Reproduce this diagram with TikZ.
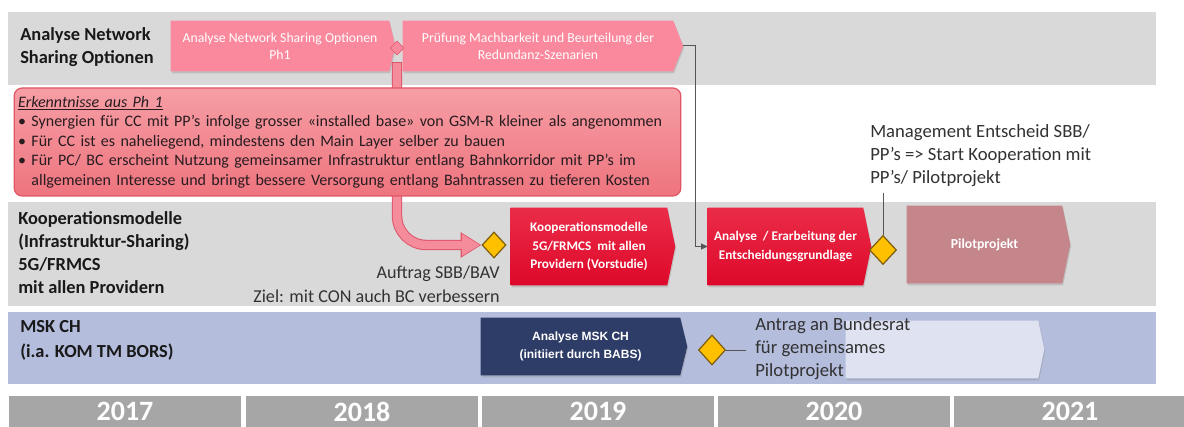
\documentclass[tikz,border=0pt]{standalone}
\usepackage{fontspec}
\setmainfont{Carlito}
\newfontfamily\arialfont{Liberation Sans}
\usetikzlibrary{shapes.geometric,arrows.meta,shadows,calc}
\pgfdeclarelayer{background}
\pgfsetlayers{background,main}

\definecolor{bandgray}{RGB}{217,217,217}
\definecolor{bandblue}{RGB}{180,189,220}
\definecolor{yeargray}{RGB}{166,166,166}
\definecolor{pinkbox}{RGB}{251,137,157}
\definecolor{pinkedge}{RGB}{226,96,116}
\definecolor{fatpink}{RGB}{245,140,155}
\definecolor{fatedge}{RGB}{222,84,104}
\definecolor{erktop}{RGB}{246,158,165}
\definecolor{erkbot}{RGB}{238,116,126}
\definecolor{erkedge}{RGB}{224,86,100}
\definecolor{erktext}{RGB}{40,28,32}
\definecolor{redtop}{RGB}{234,44,72}
\definecolor{redbot}{RGB}{222,8,42}
\definecolor{pilotrose}{RGB}{196,134,138}
\definecolor{navy}{RGB}{46,60,104}
\definecolor{paleblue}{RGB}{223,227,241}
\definecolor{msyellow}{RGB}{255,192,0}
\definecolor{msedge}{RGB}{125,92,10}
\definecolor{labelcol}{RGB}{25,25,25}
\definecolor{notecol}{RGB}{50,50,50}
\definecolor{conncol}{RGB}{85,85,85}

% fill of a chevron-shaped box behind a named node; #2 = length of the point
\newcommand\chevfill[3]{%
  \begin{pgfonlayer}{background}
    \path[#3] (#1.north west) -- (#1.north east) -- ($(#1.east)+(#2,0)$)
      -- (#1.south east) -- (#1.south west) -- cycle;
  \end{pgfonlayer}}

\begin{document}
\begin{tikzpicture}[x=0.75pt,y=-0.75pt,
  rowlabel/.style={font=\bfseries\fontsize{13.8}{17.25}\selectfont, text=labelcol,
    align=left, inner sep=0pt, anchor=north west},
  note/.style={font=\fontsize{14}{17.25}\selectfont, text=notecol, inner sep=0pt},
  pinktext/.style={text=white, font=\fontsize{10.3}{12.75}\selectfont, align=center,
    inner sep=0pt},
  redtext/.style={text=white, font=\bfseries\fontsize{9.9}{14}\selectfont, align=center,
    inner sep=0pt},
  navytext/.style={text=white, font=\arialfont\bfseries\fontsize{9}{13.5}\selectfont,
    align=center, inner sep=0pt},
  boxshadow/.style={drop shadow={shadow xshift=0.6pt, shadow yshift=-1.5pt, opacity=0.3}},
  milestone/.style={diamond, draw=msedge, fill=msyellow, line width=0.9pt, inner sep=0pt},
  conn/.style={draw=conncol, line width=0.75pt},
  yearcell/.style={fill=yeargray, text=white, font=\bfseries\fontsize{21}{21}\selectfont,
    inner sep=0pt, minimum width=174pt, minimum height=24pt},
]
\useasboundingbox (0,0) rectangle (1184,427);

% swimlane bands
\begin{pgfonlayer}{background}
  \fill[bandgray] (8,12) rectangle (1156,85);
  \fill[bandgray] (8,202) rectangle (1156,306);
  \fill[bandblue] (8,312) rectangle (1156,384);
\end{pgfonlayer}

% lane titles
\node[rowlabel] (lab1) at (20,27) {Analyse Network\\Sharing Optionen};
\node[rowlabel] (lab2) at (18,211) {Kooperationsmodelle\\(Infrastruktur-Sharing)\\5G/FRMCS\\mit allen Providern};
\node[rowlabel, font=\bfseries\fontsize{13.8}{18.75}\selectfont] (lab3) at (20,320) {MSK CH\\(i.a. KOM TM BORS)};

% lane 1: network sharing analysis
\node[pinktext, minimum width=163.5pt, minimum height=37.5pt] (ph1) at (280,46)
  {Analyse Network Sharing Optionen\\Ph1};
\chevfill{ph1}{6}{fill=pinkbox, boxshadow}
\node[pinktext, minimum width=202.5pt, minimum height=37.5pt] (pruef) at (538,46)
  {Prüfung Machbarkeit und Beurteilung der\\Redundanz-Szenarien};
\chevfill{pruef}{10}{fill=pinkbox, boxshadow}
\coordinate (pruef tip) at ($(pruef.east)+(10,0)$);

% milestones
\node[diamond, fill=pinkbox, draw=pinkedge, line width=0.6pt, inner sep=0pt,
  minimum width=10.5pt, minimum height=10.5pt] (d0) at (397,48) {};
\node[milestone, minimum width=18pt, minimum height=19.5pt] (d1) at (494,245) {};
\node[milestone, minimum width=20.25pt, minimum height=21.75pt] (d2) at (883,250) {};
\node[milestone, minimum width=20.25pt, minimum height=22.5pt] (d3) at (712,350) {};

% broad arrow from phase 1 to the mandate
\draw[draw=fatedge, line width=7.8pt, rounded corners=22pt, shorten <=5pt,
  -{Triangle[length=15.5pt,width=18pt]}] (d0.south) |- (d1.west);
\draw[draw=fatpink, line width=6.3pt, rounded corners=22pt, shorten <=5.8pt, shorten >=1pt,
  -{Triangle[length=13.5pt,width=15.5pt]}] (d0.south) |- (d1.west);

% findings of phase 1
\node[draw=erkedge, line width=0.9pt, rounded corners=6pt, top color=erktop,
  bottom color=erkbot, minimum height=81pt, text width=494pt, inner xsep=3pt,
  align=left, font=\fontsize{12}{14.6}\selectfont, text=erktext] (erk) at (347.5,142)
{\underline{\textit{Erkenntnisse aus Ph 1}}\\
• Synergien für CC mit PP’s infolge grosser «installed base» von GSM-R kleiner als angenommen\\
• Für CC ist es naheliegend, mindestens den Main Layer selber zu bauen\\
• Für PC/ BC erscheint Nutzung gemeinsamer Infrastruktur entlang Bahnkorridor mit PP’s im\\
\phantom{• }allgemeinen Interesse und bringt bessere Versorgung entlang Bahntrassen zu tieferen Kosten};

% lane 2: cooperation models
\node[redtext, minimum width=117pt, minimum height=57.75pt] (red1) at (589,246.5)
  {Kooperationsmodelle\\5G/FRMCS\ \ mit allen\\Providern (Vorstudie)};
\chevfill{red1}{8}{top color=redtop, bottom color=redbot, boxshadow}
\node[redtext, minimum width=116.25pt, minimum height=57.75pt] (red2) at (785.5,246.5)
  {Analyse\ \ / Erarbeitung der\\Entscheidungsgrundlage};
\chevfill{red2}{8}{top color=redtop, bottom color=redbot, boxshadow}
\node[redtext, font=\bfseries\fontsize{10.3}{14}\selectfont, minimum width=116.25pt,
  minimum height=57.75pt] (pilot) at (984.5,244.5) {Pilotprojekt};
\chevfill{pilot}{8}{fill=pilotrose, boxshadow}

\node[note, font=\fontsize{13.6}{18}\selectfont, align=right, anchor=north east] (auftrag)
  at (500,265.5) {Auftrag SBB/BAV\\Ziel: mit CON auch BC verbessern};
\node[note, align=left, anchor=north west] (mgmt)
  at (870,124.5) {Management Entscheid SBB/\\PP’s => Start Kooperation mit\\PP’s/ Pilotprojekt};

\draw[conn, -{Triangle[length=5pt,width=4.5pt]}] (pruef tip) -- ++(12,0) |- (red2.west);
\draw[conn, shorten <=4pt] (d2.north |- mgmt.south) -- (d2.north);

% lane 3: MSK CH
\node[navytext, minimum width=149.25pt, minimum height=42.75pt] (msk) at (580.5,346.5)
  {Analyse MSK CH\\(initiiert durch BABS)};
\chevfill{msk}{7}{fill=navy, boxshadow}
\node[minimum width=144pt, minimum height=42.75pt, inner sep=0pt] (antragbox) at (942,349.5) {};
\chevfill{antragbox}{6}{fill=paleblue, boxshadow}
\node[note, align=left, anchor=north west] (antrag) at (755,317.5)
  {Antrag an Bundesrat\\für gemeinsames\\Pilotprojekt};
\draw[conn, shorten >=7pt] (d3.east) -- (d3.east -| antrag.west);

% timeline
\node[yearcell] (y17) at (125,411.5) {2017};
\node[yearcell] (y18) at (362,411.5) {2018};
\node[yearcell] (y19) at (598,411.5) {2019};
\node[yearcell] (y20) at (834,411.5) {2020};
\node[yearcell] (y21) at (1070,411.5) {2021};
\end{tikzpicture}
\end{document}
